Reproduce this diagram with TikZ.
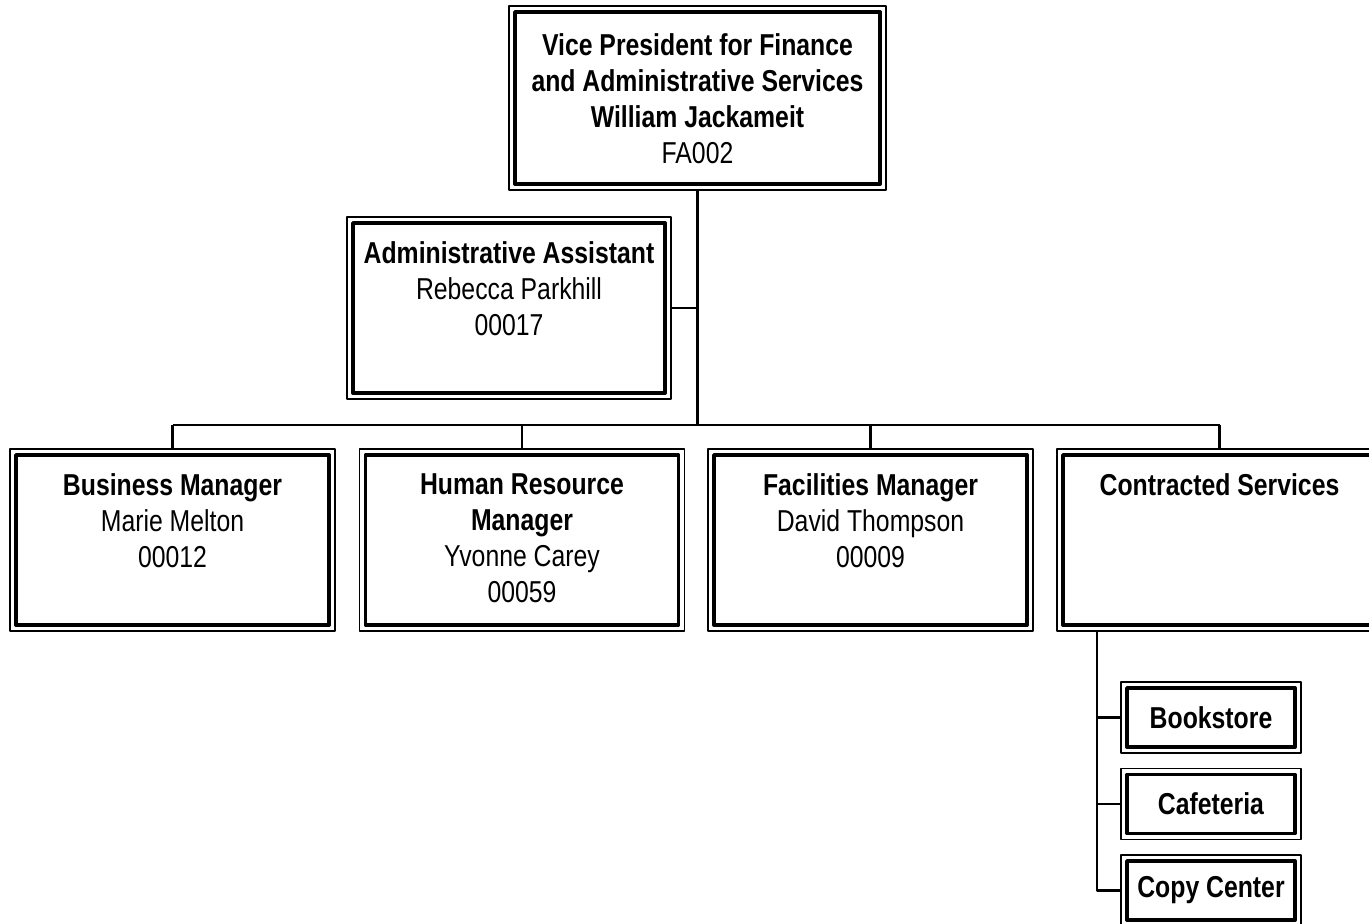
\documentclass[tikz,border=0pt]{standalone}
\usepackage{fontspec}
\setmainfont[FakeStretch=0.82]{Liberation Sans}
\usetikzlibrary{calc}
\newcommand{\boxlines}[4]{\parbox[t][#2][t]{#1}{\centering\vspace*{#3}#4}}
\tikzset{
    orgbox/.style={draw, line width=1.1pt, fill=white, inner sep=0pt, outer sep=0.06cm,
        font=\fontsize{8.6pt}{10.2pt}\selectfont},
    smallbox/.style={orgbox, minimum width=1.68cm, minimum height=0.59cm},
    link/.style={line width=0.6pt}
}

\begin{document}
\begin{tikzpicture}[line join = round]
    \useasboundingbox (0,0) rectangle (13.69,-9.23);

    \node[orgbox] (vp) at (6.975,-0.98) {\boxlines{3.65cm}{1.72cm}{2.2mm}{\textbf{Vice President for Finance}\\\textbf{and Administrative Services}\\\textbf{William Jackameit}\\FA002}};
    \node[orgbox] (aa) at (5.09,-3.08) {\boxlines{3.12cm}{1.70cm}{1.9mm}{\textbf{Administrative Assistant}\\Rebecca Parkhill\\00017}};

    \node[orgbox] (bm) at (1.725,-5.40) {\boxlines{3.13cm}{1.70cm}{1.9mm}{\textbf{Business Manager}\\Marie Melton\\00012}};
    \node[orgbox] (hr) at (5.22,-5.40) {\boxlines{3.13cm}{1.70cm}{1.9mm}{\textbf{Human Resource}\\\textbf{Manager}\\Yvonne Carey\\00059}};
    \node[orgbox] (fm) at (8.705,-5.40) {\boxlines{3.13cm}{1.70cm}{1.9mm}{\textbf{Facilities Manager}\\David Thompson\\00009}};
    \node[orgbox] (cs) at (12.195,-5.40) {\boxlines{3.13cm}{1.70cm}{1.9mm}{\textbf{Contracted Services}}};

    \node[smallbox] (bk) at (12.11,-7.175) {\textbf{Bookstore}};
    \node[smallbox] (cf) at (12.11,-8.04) {\textbf{Cafeteria}};
    \node[smallbox] (cc) at (12.11,-8.905) {\textbf{Copy Center}};

    % thin outer frames
    \foreach \n in {vp,aa,bm,hr,fm,cs,bk,cf,cc}
        \draw[line width=0.5pt] (\n.north west) rectangle (\n.south east);

    % tree lines
    \coordinate (bus) at (0,-4.25);
    \coordinate (stem) at ($(cs.south west)+(0.4,0)$);
    \draw[link] (vp.south) -- (vp.south |- bus);
    \draw[link] (aa.east) -- (aa.east -| vp.south);
    \draw[link] (bm.north |- bus) -- (cs.north |- bus);
    \foreach \n in {bm,hr,fm,cs}
        \draw[link] (\n.north |- bus) -- (\n.north);
    \draw[link] (stem) |- (cc.west);
    \draw[link] (stem |- bk.west) -- (bk.west);
    \draw[link] (stem |- cf.west) -- (cf.west);
\end{tikzpicture}
\end{document}
